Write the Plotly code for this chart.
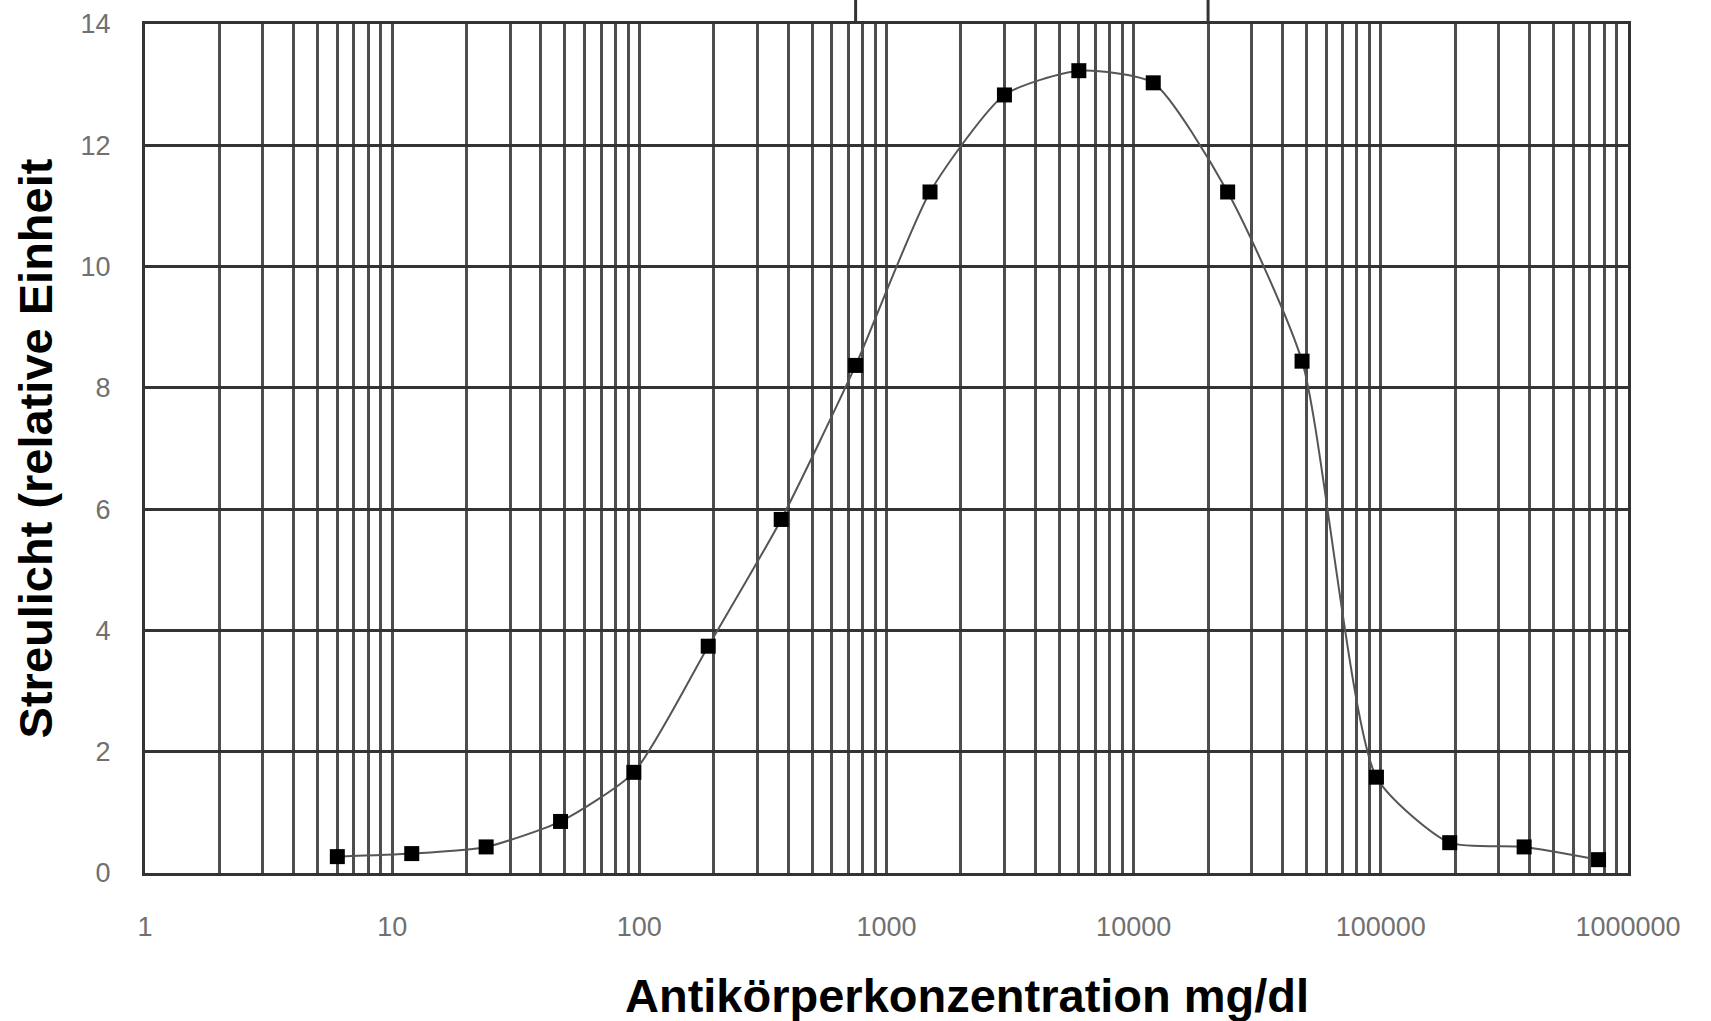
import plotly.graph_objects as go

# Data
concentration = [6, 12, 24, 48, 95, 190, 375, 750, 1500, 3000, 6000, 12000,
                 24000, 48000, 96000, 190000, 380000, 760000]
scatter_light = [0.27, 0.32, 0.43, 0.85, 1.66, 3.74, 5.83, 8.37, 11.23, 12.83,
                 13.23, 13.03, 11.23, 8.44, 1.58, 0.50, 0.43, 0.22]

decade_labels = ["1", "10", "100", "1000", "10000", "100000", "1000000"]
y_tick_vals = [0, 2, 4, 6, 8, 10, 12, 14]
y_tick_text = ["0", "2", "4", "6", "8", "10", "12", "14"]
zone_lines_x = [750, 20000]

x_title = "Antikörperkonzentration mg/dl"
y_title = "Streulicht (relative Einheit"

# log grid: every 1..9 x decade, labels only on decades
x_tick_vals = []
x_tick_text = []
for lab in decade_labels[:-1]:
    base = int(lab)
    for k in range(1, 10):
        x_tick_vals.append(base * k)
        x_tick_text.append(lab if k == 1 else "")
x_tick_vals.append(int(decade_labels[-1]))
x_tick_text.append(decade_labels[-1])

fig = go.Figure()
fig.add_trace(go.Scatter(
    x=concentration, y=scatter_light, mode="lines+markers",
    line=dict(color="#555555", width=2, shape="spline", smoothing=0.6),
    marker=dict(symbol="square", size=15, color="black"),
    showlegend=False,
))

for xv in zone_lines_x:
    fig.add_shape(type="line", xref="x", yref="paper", x0=xv, x1=xv,
                  y0=1, y1=1.04, line=dict(color="#333333", width=3))

tick_font = dict(family="Liberation Sans, Arial, sans-serif", size=27, color="#707070")
title_font = dict(family="Liberation Sans, Arial, sans-serif", size=47, color="black", weight="bold")

fig.add_annotation(
    text=x_title, xref="paper", yref="paper", x=0.554, y=-0.1437,
    xanchor="center", yanchor="middle", showarrow=False, font=title_font,
)

fig.update_layout(
    width=1711, height=1021,
    margin=dict(l=145, r=83, t=24, b=148, autoexpand=False),
    paper_bgcolor="white", plot_bgcolor="white",
    xaxis=dict(
        type="log", range=[0, 6],
        tickmode="array", tickvals=x_tick_vals, ticktext=x_tick_text,
        showgrid=True, gridcolor="#4d4d4d", gridwidth=2.5,
        showline=True, mirror=True, linecolor="#333333", linewidth=3,
        ticks="", tickfont=tick_font, ticklabelstandoff=28,
        zeroline=False,
    ),
    yaxis=dict(
        range=[0, 14], tickmode="array", tickvals=y_tick_vals, ticktext=y_tick_text,
        showgrid=True, gridcolor="#333333", gridwidth=3,
        showline=True, mirror=True, linecolor="#333333", linewidth=3,
        ticks="", tickfont=tick_font, ticklabelstandoff=26,
        zeroline=False,
        title=dict(text=y_title, font=title_font, standoff=14),
    ),
)

fig.write_html("out.html")
